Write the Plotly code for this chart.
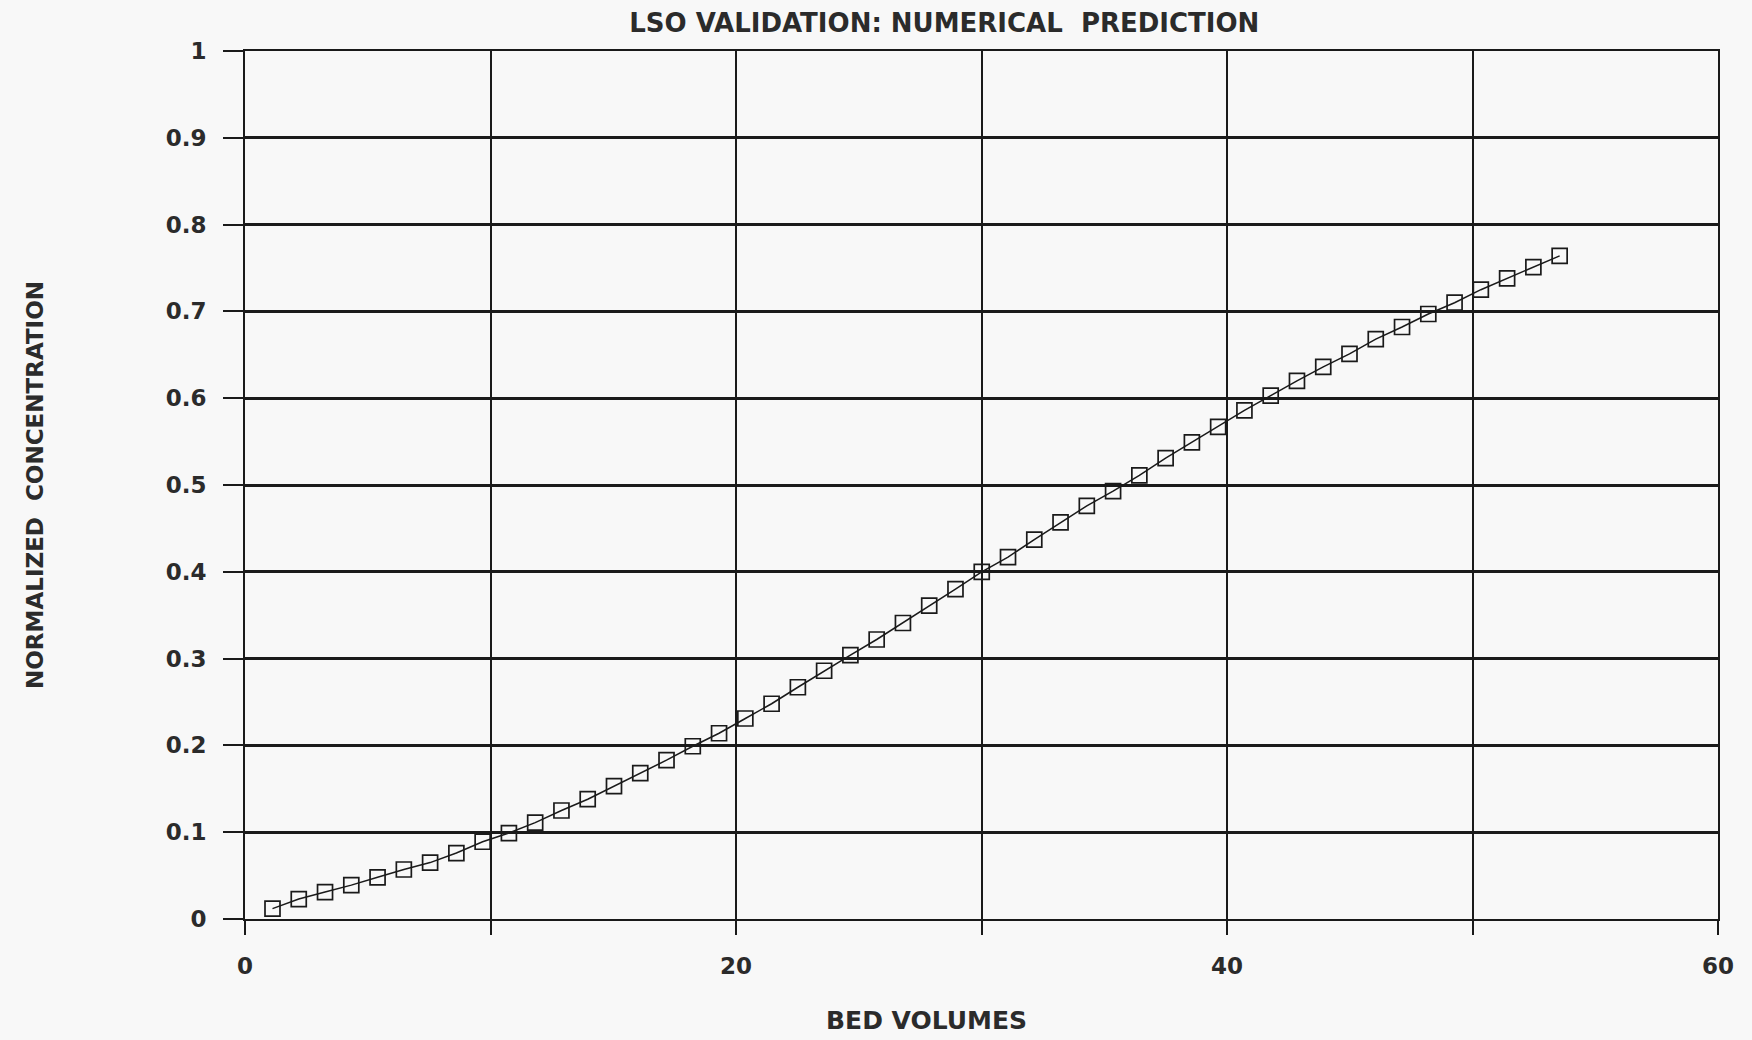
import plotly.graph_objects as go

# Bed volumes (x) and normalized concentration (y)
bed_volumes = [1.12, 2.19, 3.26, 4.33, 5.40, 6.47, 7.54, 8.61, 9.68, 10.75,
               11.82, 12.89, 13.96, 15.03, 16.10, 17.17, 18.24, 19.31, 20.38, 21.45,
               22.52, 23.59, 24.66, 25.73, 26.80, 27.87, 28.94, 30.01, 31.08, 32.15,
               33.22, 34.29, 35.36, 36.43, 37.50, 38.57, 39.64, 40.71, 41.78, 42.85,
               43.92, 44.99, 46.06, 47.13, 48.20, 49.27, 50.34, 51.41, 52.48, 53.55]
concentration = [0.012, 0.023, 0.031, 0.039, 0.048, 0.057, 0.065, 0.076, 0.089, 0.099,
                 0.111, 0.125, 0.138, 0.153, 0.168, 0.183, 0.199, 0.214, 0.231, 0.248,
                 0.267, 0.286, 0.304, 0.322, 0.341, 0.361, 0.380, 0.400, 0.417, 0.437,
                 0.457, 0.476, 0.493, 0.511, 0.531, 0.549, 0.567, 0.586, 0.603, 0.620,
                 0.636, 0.651, 0.668, 0.682, 0.697, 0.710, 0.725, 0.738, 0.751, 0.764]

x_tickvals = [0, 10, 20, 30, 40, 50, 60]
x_ticktext = ["0", "", "20", "", "40", "", "60"]
y_tickvals = [0, 0.1, 0.2, 0.3, 0.4, 0.5, 0.6, 0.7, 0.8, 0.9, 1]
y_ticktext = ["0", "0.1", "0.2", "0.3", "0.4", "0.5", "0.6", "0.7", "0.8", "0.9", "1"]

title_text = "LSO VALIDATION: NUMERICAL  PREDICTION"
x_title = "BED VOLUMES"
y_title = "NORMALIZED  CONCENTRATION"

FONT = "DejaVu Sans"
INK = "#1a1a1a"
TXT = "#2b2b2b"
BG = "#f8f8f8"

fig = go.Figure()
fig.add_trace(go.Scatter(
    x=bed_volumes, y=concentration, mode="lines+markers",
    line=dict(color=INK, width=1.5),
    marker=dict(symbol="square-open", size=15, color=INK, line=dict(width=1.7, color=INK)),
    showlegend=False,
))

fig.update_layout(
    width=1752, height=1040,
    paper_bgcolor=BG, plot_bgcolor=BG,
    margin=dict(l=245, r=34, t=51, b=121),
    font=dict(family=FONT, color=TXT),
    title=dict(text=title_text, x=0.539, xref="container", xanchor="center",
               y=0.978, yref="container", yanchor="middle",
               font=dict(family=FONT, size=26, color=TXT, weight="bold")),
    xaxis=dict(
        range=[0, 60], tickmode="array", tickvals=x_tickvals, ticktext=x_ticktext,
        showgrid=True, gridcolor=INK, gridwidth=2,
        showline=True, linecolor=INK, linewidth=2, mirror=True,
        ticks="outside", ticklen=14, tickwidth=2, tickcolor=INK,
        ticklabelstandoff=11,
        zeroline=False, tickfont=dict(family=FONT, size=23, color=TXT, weight="bold"),
    ),
    yaxis=dict(
        range=[0, 1], tickmode="array", tickvals=y_tickvals, ticktext=y_ticktext,
        showgrid=True, gridcolor=INK, gridwidth=2.5,
        showline=True, linecolor=INK, linewidth=2, mirror=True,
        ticks="outside", ticklen=20, tickwidth=2, tickcolor=INK,
        ticklabelstandoff=12,
        zeroline=False, tickfont=dict(family=FONT, size=23, color=TXT, weight="bold"),
        title=dict(text=y_title, font=dict(family=FONT, size=23, color=TXT, weight="bold"),
                   standoff=116),
    ),
    annotations=[dict(
        text=x_title, xref="paper", yref="paper", x=0.463, y=-0.1175,
        xanchor="center", yanchor="middle", showarrow=False,
        font=dict(family=FONT, size=25, color=TXT, weight="bold"),
    )],
)

fig.write_html("out.html")
